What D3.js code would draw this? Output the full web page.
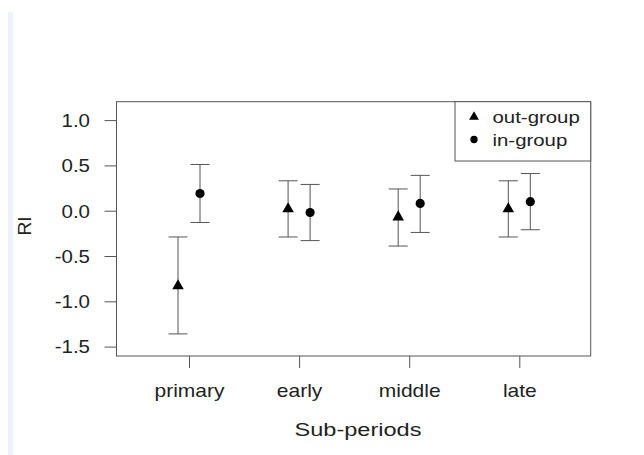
<!DOCTYPE html>
<html><head><meta charset="utf-8">
<script src="https://cdn.jsdelivr.net/npm/d3@7"></script>
<style>body{margin:0;background:#fff}svg{display:block}text{font-family:"Liberation Sans",Arial,sans-serif;fill:#222}</style>
</head><body><svg id="c" width="644" height="455"></svg>
<script>
const categories = ["primary","early","middle","late"];
const outMean = [-0.83, 0.02, -0.07, 0.02];
const outLow  = [-1.36, -0.29, -0.39, -0.29];
const outHigh = [-0.29, 0.33, 0.24, 0.33];
const inMean  = [0.19, -0.02, 0.08, 0.10];
const inLow   = [-0.13, -0.33, -0.24, -0.21];
const inHigh  = [0.51, 0.29, 0.39, 0.41];
const yTicks = [-1.5, -1.0, -0.5, 0.0, 0.5, 1.0];
const yTickLabels = ["-1.5","-1.0","-0.5","0.0","0.5","1.0"];
const seriesNames = ["out-group","in-group"];

const svg = d3.select("#c");
svg.append("rect").attr("x",8).attr("y",12).attr("width",5).attr("height",443).attr("fill","#edf1fa");

const L=116.5, R=590.7, T=101.7, B=356;
const y = d3.scaleLinear().domain([0,1]).range([210.7, 210.7-90.6]);
const x = d3.scalePoint().domain(categories).range([189,519.3]);
const off = 11;

svg.append("rect").attr("x",L).attr("y",T).attr("width",R-L).attr("height",B-T)
  .attr("fill","none").attr("stroke","#555").attr("stroke-width",1);

const yAxis = d3.axisLeft(y).tickValues(yTicks).tickFormat((d,i)=>yTickLabels[i]).tickSize(12);
const gy = svg.append("g").attr("transform",`translate(${L},0)`).call(yAxis);
gy.select(".domain").remove();
gy.selectAll(".tick line").attr("stroke","#555");
gy.selectAll(".tick text").attr("x",null).attr("dy","0.36em").attr("font-size",17.5).attr("fill","#222")
  .attr("transform",`translate(-26.5,0) scale(1.17,1)`);

const xAxis = d3.axisBottom(x).tickSize(12);
const gx = svg.append("g").attr("transform",`translate(0,${B})`).call(xAxis);
gx.select(".domain").remove();
gx.selectAll(".tick line").attr("stroke","#555");
gx.selectAll(".tick text").attr("y",null).attr("dy",null).attr("font-size",17.5).attr("fill","#222")
  .attr("transform",`translate(0,41) scale(1.2,1)`);

svg.append("text").attr("transform","translate(358,435.5) scale(1.24,1)").attr("text-anchor","middle").attr("font-size",19).text("Sub-periods");
svg.append("text").attr("transform","translate(31,226) rotate(-90) scale(1.1,1)").attr("text-anchor","middle").attr("font-size",17.5).text("RI");

function drawSeries(means, lows, highs, dx, symType, size){
  const g = svg.append("g");
  categories.forEach((c,i)=>{
    const cx = x(c)+dx;
    g.append("line").attr("x1",cx).attr("x2",cx).attr("y1",y(lows[i])).attr("y2",y(highs[i])).attr("stroke","#555").attr("stroke-width",1);
    [lows[i],highs[i]].forEach(v=>{
      g.append("line").attr("x1",cx-9.5).attr("x2",cx+9.5).attr("y1",y(v)).attr("y2",y(v)).attr("stroke","#555").attr("stroke-width",1);
    });
    g.append("path").attr("d",d3.symbol().type(symType).size(size)()).attr("transform",`translate(${cx},${y(means[i])})`).attr("fill","#000");
  });
}
drawSeries(outMean,outLow,outHigh,-off,d3.symbolTriangle,58);
drawSeries(inMean,inLow,inHigh,off,d3.symbolCircle,66);

// legend
const lg = svg.append("g");
lg.append("rect").attr("x",455).attr("y",T).attr("width",R-455).attr("height",161-T).attr("fill","#fff").attr("stroke","#555");
lg.append("path").attr("d",d3.symbol().type(d3.symbolTriangle).size(42)()).attr("transform","translate(474,117)").attr("fill","#000");
lg.append("path").attr("d",d3.symbol().type(d3.symbolCircle).size(42)()).attr("transform","translate(474,139.5)").attr("fill","#000");
lg.append("text").attr("transform","translate(492.5,123) scale(1.2,1)").attr("font-size",17).text(seriesNames[0]);
lg.append("text").attr("transform","translate(492.5,145.5) scale(1.2,1)").attr("font-size",17).text(seriesNames[1]);
</script></body></html>
